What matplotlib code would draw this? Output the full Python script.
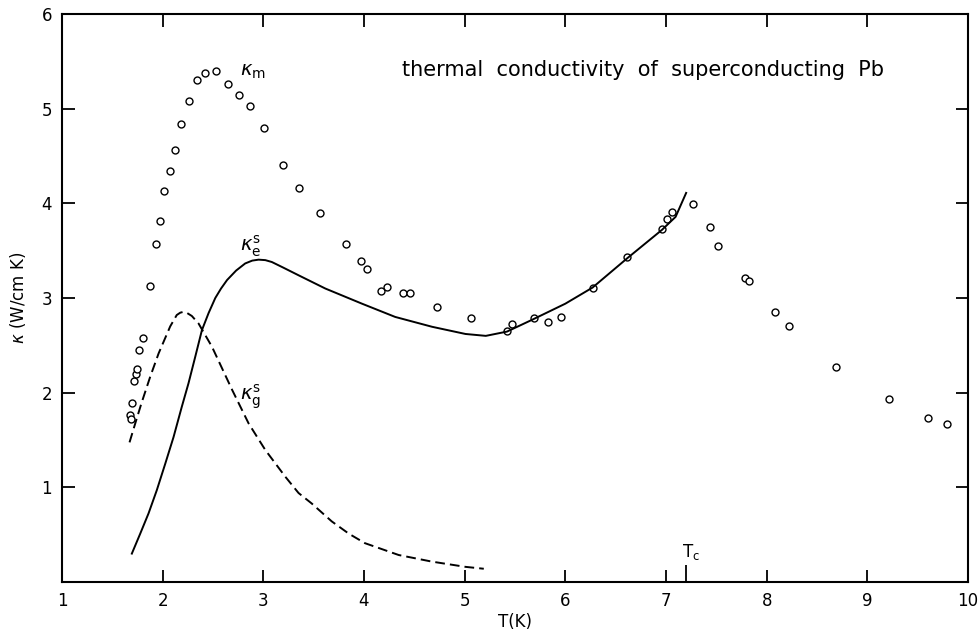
import matplotlib.pyplot as plt
from matplotlib.ticker import FixedLocator

# measured thermal conductivity (open circles)
T_m = [1.675, 1.685, 1.70, 1.72, 1.735, 1.75, 1.77, 1.80, 1.87, 1.935, 1.975,
       2.015, 2.07, 2.12, 2.18, 2.26, 2.34, 2.42, 2.53, 2.645, 2.755, 2.865,
       3.01, 3.195, 3.35, 3.56, 3.82, 3.975, 4.03, 4.165, 4.23, 4.39, 4.46,
       4.73, 5.06, 5.42, 5.47, 5.69, 5.83, 5.955, 6.27, 6.615, 6.965, 7.005,
       7.055, 7.27, 7.44, 7.52, 7.78, 7.82, 8.08, 8.22, 8.685, 9.21, 9.60, 9.79]
k_m = [1.76, 1.72, 1.89, 2.12, 2.20, 2.25, 2.45, 2.58, 3.13, 3.57, 3.81,
       4.13, 4.34, 4.565, 4.84, 5.08, 5.30, 5.38, 5.40, 5.26, 5.14, 5.03,
       4.80, 4.41, 4.16, 3.90, 3.57, 3.39, 3.31, 3.07, 3.115, 3.05, 3.05,
       2.90, 2.79, 2.65, 2.73, 2.79, 2.745, 2.80, 3.11, 3.435, 3.725, 3.83,
       3.91, 3.99, 3.75, 3.55, 3.21, 3.18, 2.85, 2.70, 2.27, 1.93, 1.735, 1.67]

# electronic contribution (solid)
T_e = [1.694, 1.777, 1.86, 1.942, 2.026, 2.108, 2.19, 2.257, 2.324, 2.39,
       2.456, 2.523, 2.58, 2.64, 2.73, 2.82, 2.89, 2.953, 3.02, 3.085, 3.2,
       3.35, 3.616, 3.98, 4.31, 4.676, 5.008, 5.21, 5.42, 5.67, 6.00, 6.27,
       6.615, 6.96, 7.095, 7.2]
k_e = [0.30, 0.51, 0.725, 0.97, 1.25, 1.53, 1.85, 2.10, 2.38, 2.66,
       2.84, 3.00, 3.10, 3.19, 3.29, 3.365, 3.395, 3.405, 3.40, 3.38, 3.32,
       3.24, 3.10, 2.94, 2.80, 2.696, 2.62, 2.60, 2.645, 2.77, 2.94, 3.11,
       3.42, 3.72, 3.857, 4.11]

# lattice contribution (dashed)
T_g = [1.671, 1.728, 1.79, 1.877, 1.96, 2.075, 2.14, 2.175, 2.208, 2.245,
       2.29, 2.357, 2.49, 2.69, 2.854, 3.02, 3.22, 3.35, 3.48, 3.68, 3.85,
       4.01, 4.345, 4.676, 5.008, 5.19]
k_g = [1.475, 1.676, 1.89, 2.17, 2.415, 2.70, 2.82, 2.845, 2.854, 2.84,
       2.81, 2.73, 2.485, 2.03, 1.675, 1.394, 1.11, 0.94, 0.83, 0.64, 0.51,
       0.41, 0.285, 0.215, 0.16, 0.14]

Tc = 7.2
x_ticks = [1, 2, 3, 4, 5, 6, 7, 8, 9, 10]
y_ticks = [1, 2, 3, 4, 5, 6]

fig = plt.figure(figsize=(9.79, 6.36), dpi=100)
ax = fig.add_axes([0.0633, 0.0849, 0.9255, 0.8931])

ax.plot(T_m, k_m, "o", ms=5, mfc="white", mec="black", mew=1.0, ls="none")
ax.plot(T_e, k_e, "-", color="black", lw=1.4)
ax.plot(T_g, k_g, color="black", lw=1.4, dashes=(5, 2.6))

ax.set_xlim(1, 10)
ax.set_ylim(0, 6)
ax.set_xticks(x_ticks)
ax.set_yticks(y_ticks)
ax.xaxis.set_minor_locator(FixedLocator([Tc]))
ax.yaxis.set_minor_locator(FixedLocator([]))
ax.tick_params(which="major", direction="in", length=9, width=1.3,
               top=True, right=True, labelsize=12, pad=7)
ax.tick_params(which="minor", direction="in", length=12, width=1.3,
               bottom=True, top=False)
for s in ax.spines.values():
    s.set_linewidth(1.5)

ax.set_xlabel("T(K)", fontsize=12, labelpad=2)
ax.set_ylabel(r"$\kappa$ (W/cm K)", fontsize=12, labelpad=10)

ax.text(2.77, 5.39, r"$\kappa_{\rm m}$", fontsize=14, va="center", ha="left")
ax.text(2.77, 3.55, r"$\kappa_{\rm e}^{\rm s}$", fontsize=14, va="center", ha="left")
ax.text(2.77, 1.96, r"$\kappa_{\rm g}^{\rm s}$", fontsize=14, va="center", ha="left")
ax.text(Tc - 0.04, 0.32, r"T$_{\rm c}$", fontsize=12, va="center", ha="left")
ax.text(4.38, 5.41, "thermal  conductivity  of  superconducting  Pb",
        fontsize=15, va="center", ha="left")

fig.savefig("out.png", dpi=100)
